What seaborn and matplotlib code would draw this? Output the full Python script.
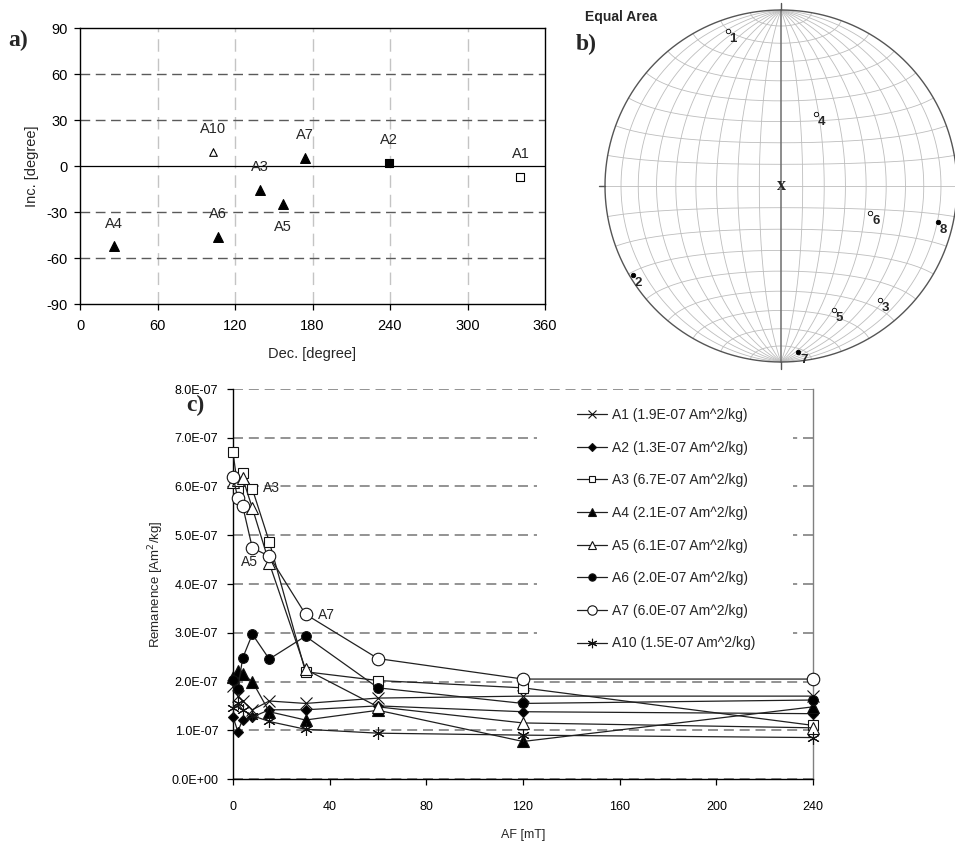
import numpy as np
import pandas as pd
import matplotlib
matplotlib.use("Agg")
import matplotlib.pyplot as plt
from matplotlib.patches import Rectangle
from matplotlib.ticker import FuncFormatter
import seaborn as sns

# sample directions (panel a and b)
samples = ['A1', 'A2', 'A3', 'A4', 'A5', 'A6', 'A7', 'A10']
net_ids = ['1', '2', '3', '4', '5', '6', '7', '8']
dec = [341, 239, 139, 26, 157, 107, 174, 103]
inc = [-7.5, 2, -15.5, -52.5, -24.5, -46, 5.5, 9.4]

# AF demagnetisation (panel c), remanence in 1e-7 Am^2/kg
af_steps = [0, 2, 4, 8, 15, 30, 60, 120, 240]
rem_A1 = [1.90, 1.70, 1.60, 1.42, 1.60, 1.55, 1.66, 1.70, 1.70]
rem_A2 = [1.28, 0.97, 1.22, 1.27, 1.42, 1.42, 1.50, 1.38, 1.34]
rem_A3 = [6.70, 5.97, 6.28, 5.95, 4.87, 2.20, 2.02, 1.87, 1.10]
rem_A4 = [2.10, 2.22, 2.15, 2.00, 1.38, 1.21, 1.41, 0.77, 1.48]
rem_A5 = [6.10, 6.13, 6.17, 5.56, 4.43, 2.25, 1.48, 1.15, 1.05]
rem_A6 = [2.03, 1.85, 2.48, 2.97, 2.46, 2.93, 1.87, 1.55, 1.62]
rem_A7 = [6.20, 5.76, 5.60, 4.74, 4.57, 3.38, 2.47, 2.05, 2.05]
rem_A10 = [1.45, 1.55, 1.42, 1.30, 1.18, 1.02, 0.94, 0.90, 0.85]
nrm_text = ['1.9E-07', '1.3E-07', '6.7E-07', '2.1E-07', '6.1E-07', '2.0E-07', '6.0E-07', '1.5E-07']

series = [rem_A1, rem_A2, rem_A3, rem_A4, rem_A5, rem_A6, rem_A7, rem_A10]

sns.set_style("ticks")
plt.rcParams['font.family'] = ['Liberation Sans', 'DejaVu Sans']
plt.rcParams['axes.unicode_minus'] = False

W, H = 955, 847
fig = plt.figure(figsize=(W / 100, H / 100), dpi=100)


def box(l, t, r, b):
    return [l / W, 1 - b / H, (r - l) / W, (b - t) / H]


# ---------- a) Dec / Inc ----------
ax_a = fig.add_axes(box(80, 28, 545, 304))
df_dir = pd.DataFrame({'sample': samples, 'dec': dec, 'inc': inc})

ax_a.set_xlim(0, 360)
ax_a.set_ylim(-90, 90)
ax_a.set_xticks(range(0, 361, 60))
ax_a.set_yticks(range(-90, 91, 30))
for xv in range(60, 360, 60):
    ax_a.axvline(xv, color='#c4c4c4', lw=1.0, ls=(0, (9, 5)), zorder=0)
for yv in (-60, -30, 30, 60):
    ax_a.axhline(yv, color='#5a5a5a', lw=1.0, ls=(0, (7, 4)), zorder=0)
ax_a.axhline(0, color='black', lw=0.9, zorder=0.5)

a_style = {'A1': ('s', 'white', 30), 'A2': ('s', 'black', 40), 'A10': ('^', 'white', 30)}
for _, row in df_dir.iterrows():
    m, fc, s = a_style.get(row['sample'], ('^', 'black', 50))
    sns.scatterplot(x=[row['dec']], y=[row['inc']], marker=m, s=s, color=fc,
                    edgecolor='black', linewidth=0.8, ax=ax_a, zorder=3, legend=False)
    below = row['sample'] == 'A5'
    ax_a.annotate(row['sample'], (row['dec'], row['inc']),
                  xytext=(0, -23 if below else 23), textcoords='offset pixels',
                  ha='center', va='center', fontsize=10.5)

for sp in ax_a.spines.values():
    sp.set_color('black')
    sp.set_linewidth(1.0)
ax_a.tick_params(direction='out', length=4, width=0.9, labelsize=10.5, colors='black')
ax_a.tick_params(axis='x', pad=7)
ax_a.tick_params(axis='y', pad=5)
ax_a.set_xlabel('Dec. [degree]', fontsize=10.5, labelpad=10)
ax_a.set_ylabel('Inc. [degree]', fontsize=10.5, labelpad=5)

# ---------- b) Equal area stereonet ----------
half = 188
ax_b = fig.add_axes(box(781 - half, 186 - half, 781 + half, 186 + half))
lim = half / 176
ax_b.set_xlim(-lim, lim)
ax_b.set_ylim(-lim, lim)
ax_b.set_aspect('equal')
ax_b.axis('off')


def ea_xy(x, y, z):
    f = 1 / np.sqrt(1 + np.abs(z))
    return x * f, y * f


t = np.radians(np.linspace(-90, 90, 721))
for lon in range(-80, 90, 10):
    L = np.radians(lon)
    X, Y = ea_xy(np.cos(t) * np.sin(L), np.sin(t), np.cos(t) * np.cos(L))
    if lon == 0:
        ax_b.plot(X, Y, color='#6e6e6e', lw=1.1, zorder=2)
    else:
        ax_b.plot(X, Y, color='#bdbdbd', lw=0.6, zorder=1)
for lat in range(-80, 90, 10):
    P = np.radians(lat)
    X, Y = ea_xy(np.cos(P) * np.sin(t), np.sin(P) * np.ones_like(t), np.cos(P) * np.cos(t))
    ax_b.plot(X, Y, color='#bdbdbd', lw=0.6, zorder=1)

th = np.linspace(0, 2 * np.pi, 721)
ax_b.plot(np.cos(th), np.sin(th), color='#555555', lw=1.0, zorder=2)
for (x0, y0, x1, y1) in [(0, 1, 0, 1.04), (0, -1, 0, -1.04), (1, 0, 1.035, 0), (-1, 0, -1.035, 0)]:
    ax_b.plot([x0, x1], [y0, y1], color='#555555', lw=1.0)
ax_b.text(0, 0, 'x', family=['Liberation Serif', 'DejaVu Serif'], fontweight='bold',
          fontsize=13, ha='center', va='center', zorder=4)

D = np.radians(dec)
I = np.radians(inc)
px = np.cos(I) * np.sin(D) / np.sqrt(1 + np.abs(np.sin(I)))
py = np.cos(I) * np.cos(D) / np.sqrt(1 + np.abs(np.sin(I)))
for k in range(len(samples)):
    filled = inc[k] > 0
    ax_b.plot(px[k], py[k], 'o', ms=3.2, mfc='black' if filled else 'white',
              mec='black', mew=0.6, zorder=5)
    ax_b.annotate(net_ids[k], (px[k], py[k]), xytext=(2, -2), textcoords='offset pixels',
                  ha='left', va='top', fontsize=9.5, fontweight='bold', zorder=5)

fig.text(585 / W, 1 - 17 / H, 'Equal Area', fontsize=10, fontweight='bold', va='center')

# ---------- c) AF demagnetisation ----------
ax_c = fig.add_axes(box(233, 389, 813, 779))
rows = []
for name, vals in zip(samples, series):
    for a, v in zip(af_steps, vals):
        rows.append({'AF': a, 'rem': v * 1e-7, 'sample': name})
df_af = pd.DataFrame(rows)

c_style = {
    'A1': ('x', 'none', 8.0),
    'A2': ('D', 'black', 5.0),
    'A3': ('s', 'white', 6.5),
    'A4': ('^', 'black', 8.0),
    'A5': ('^', 'white', 8.0),
    'A6': ('o', 'black', 7.0),
    'A7': ('o', 'white', 9.0),
    'A10': ((6, 2, 0), 'none', 9.0),
}
for name, nrm in zip(samples, nrm_text):
    m, fc, ms = c_style[name]
    sub = df_af[df_af['sample'] == name]
    sns.lineplot(data=sub, x='AF', y='rem', ax=ax_c, color='#202020', lw=0.9,
                 marker=m, markersize=ms, markerfacecolor=fc, markeredgecolor='#111111',
                 markeredgewidth=0.8, clip_on=False, zorder=3,
                 label=f'{name} ({nrm} Am^2/kg)')

ax_c.set_xlim(0, 240)
ax_c.set_ylim(0, 8e-7)
ax_c.set_xticks(range(0, 241, 40))
ax_c.set_yticks(np.arange(0, 8.01e-7, 1e-7))
ax_c.yaxis.set_major_formatter(FuncFormatter(lambda v, p: f'{v:.1E}'))
ax_c.set_axisbelow(True)
ax_c.yaxis.grid(True, color='#808080', lw=1.2, ls=(0, (6, 3.5)))
ax_c.xaxis.grid(False)
ax_c.add_patch(Rectangle((0.524, 0.31), 0.4415, 0.672, transform=ax_c.transAxes,
                         fc='white', ec='none', zorder=1.5))

ax_c.spines['top'].set_visible(False)
ax_c.spines['left'].set_color('black')
ax_c.spines['bottom'].set_color('black')
ax_c.spines['right'].set_color('#808080')
for s in ('left', 'bottom', 'right'):
    ax_c.spines[s].set_linewidth(1.0)
ax_c.tick_params(direction='out', length=4, width=0.9, labelsize=9, colors='black')
ax_c.tick_params(axis='x', pad=12)
ax_c.tick_params(axis='y', pad=6.5)
ax_c.set_xlabel('AF [mT]', fontsize=9, labelpad=11)
ax_c.set_ylabel('Remanence [Am$^2$/kg]', fontsize=9.5, labelpad=4)

ax_c.text(12.5, 5.97e-7, 'A3', fontsize=10, ha='left', va='center')
ax_c.text(7, 4.45e-7, 'A5', fontsize=10, ha='center', va='center')
ax_c.text(35, 3.36e-7, 'A7', fontsize=10, ha='left', va='center')

ax_c.legend(loc='upper left', bbox_to_anchor=(0.593, 0.951), frameon=False,
            handlelength=2.2, handletextpad=0.36, labelspacing=1.34, markerscale=0.75,
            borderpad=0, borderaxespad=0, fontsize=10)

# panel letters
serif = ['Liberation Serif', 'DejaVu Serif']
fig.text(8 / W, 1 - 40 / H, 'a)', family=serif, fontweight='bold', fontsize=17, va='center')
fig.text(576 / W, 1 - 44 / H, 'b)', family=serif, fontweight='bold', fontsize=17, va='center')
fig.text(186 / W, 1 - 405 / H, 'c)', family=serif, fontweight='bold', fontsize=17, va='center')

fig.savefig('out.png', dpi=100)
